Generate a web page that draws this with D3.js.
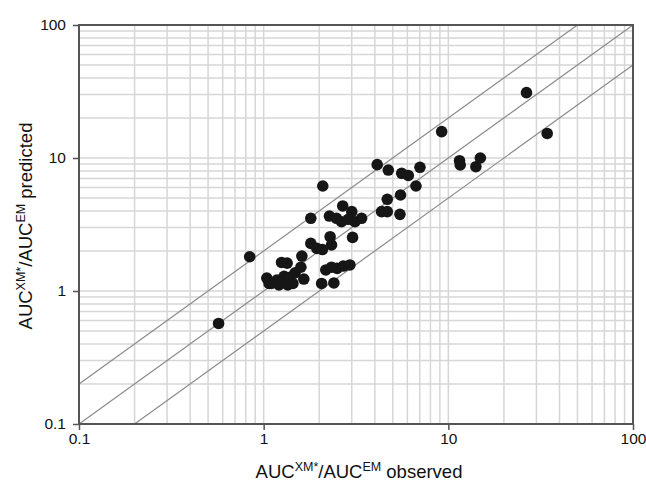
<!DOCTYPE html>
<html>
<head>
<meta charset="utf-8">
<script src="https://cdn.jsdelivr.net/npm/d3@7"></script>
<style>
  body { margin: 0; background: #fff; }
  text { font-family: "Liberation Sans", Arial, sans-serif; fill: #111; }
</style>
</head>
<body>
<div id="chart"></div>
<script>
// observed vs predicted AUC ratios
const observed = [
  1.04, 1.10, 1.18, 1.21, 1.27, 1.35, 1.39, 1.48, 1.59, 1.61, 1.65, 1.25, 1.34,
  1.07, 1.29, 1.44,
  1.80, 1.94, 2.08, 2.29, 2.33, 2.17, 2.33, 2.50, 2.70, 2.93, 2.06, 2.40, 3.03,
  1.80, 2.09, 2.27, 2.48, 2.64, 2.87, 3.00, 3.12, 3.39, 2.68,
  4.12, 4.73, 5.59, 6.07, 6.68, 4.67, 5.51, 4.35, 4.67, 5.47, 7.02,
  11.5, 11.6, 14.9, 14.1, 9.2, 26.5, 34.3, 0.84, 0.57
]
const predicted = [
  1.25, 1.14, 1.21, 1.11, 1.19, 1.11, 1.27, 1.37, 1.51, 1.83, 1.23, 1.64, 1.62,
  1.14, 1.29, 1.14,
  2.28, 2.09, 2.05, 2.56, 2.22, 1.44, 1.51, 1.48, 1.54, 1.57, 1.14, 1.15, 2.53,
  3.52, 6.16, 3.66, 3.52, 3.32, 3.46, 3.95, 3.32, 3.52, 4.36,
  8.91, 8.12, 7.67, 7.39, 6.16, 4.89, 5.27, 3.95, 3.95, 3.77, 8.51,
  9.54, 8.86, 10.0, 8.60, 15.8, 31.0, 15.3, 1.81, 0.57
]
const tickValues = [0.1, 1, 10, 100]
const tickLabels = ['0.1', '1', '10', '100']
const refFactors = [2, 1, 0.5]

const size = { width: 554, height: 399 }
const margin = { top: 25, left: 79 }

const svg = d3.select('#chart').append('svg')
  .attr('width', 646)
  .attr('height', 484)

const canvas = svg.append('g')
  .attr('transform', `translate(${margin.left},${margin.top})`)

const x = d3.scaleLog().domain([0.1, 100]).range([0, size.width])
const y = d3.scaleLog().domain([0.1, 100]).range([size.height, 0])

// minor + major grid
const gridVals = []
;[0.1, 1, 10].forEach((dec) => {
  for (let k = 1; k <= 9; k++) gridVals.push(dec * k)
})

canvas.append('g')
  .selectAll('line')
  .data(gridVals.slice(1))
  .enter()
  .append('line')
  .attr('x1', (d) => x(d)).attr('x2', (d) => x(d))
  .attr('y1', 0).attr('y2', size.height)
  .style('stroke', '#d6d6d6')
  .style('stroke-width', 1.5)

canvas.append('g')
  .selectAll('line')
  .data(gridVals.slice(1))
  .enter()
  .append('line')
  .attr('y1', (d) => y(d)).attr('y2', (d) => y(d))
  .attr('x1', 0).attr('x2', size.width)
  .style('stroke', '#d6d6d6')
  .style('stroke-width', 1.5)

// reference lines y = 2x, y = x, y = x/2
canvas.append('clipPath').attr('id', 'clip')
  .append('rect').attr('width', size.width).attr('height', size.height)

canvas.append('g')
  .attr('clip-path', 'url(#clip)')
  .selectAll('line')
  .data(refFactors)
  .enter()
  .append('line')
  .attr('x1', x(0.01)).attr('y1', (f) => y(0.01 * f))
  .attr('x2', x(1000)).attr('y2', (f) => y(1000 * f))
  .style('stroke', '#8a8a8a')
  .style('stroke-width', 1.2)

// points
canvas.append('g')
  .selectAll('circle')
  .data(observed.map((o, i) => [o, predicted[i]]))
  .enter()
  .append('circle')
  .attr('cx', (d) => x(d[0]))
  .attr('cy', (d) => y(d[1]))
  .attr('r', 5.8)
  .style('fill', '#161616')

// frame
canvas.append('rect')
  .attr('width', size.width)
  .attr('height', size.height)
  .style('fill', 'none')
  .style('stroke', '#555')
  .style('stroke-width', 2)

// axes
const xAxis = d3.axisBottom(x)
  .tickValues(tickValues)
  .tickFormat((d, i) => tickLabels[i])
  .tickSize(6)
  .tickPadding(3)
const yAxis = d3.axisLeft(y)
  .tickValues(tickValues)
  .tickFormat((d, i) => tickLabels[i])
  .tickSize(6)
  .tickPadding(7)

const gx = canvas.append('g')
  .attr('transform', `translate(0,${size.height})`)
  .call(xAxis)
const gy = canvas.append('g').call(yAxis)

;[gx, gy].forEach((g) => {
  g.select('.domain').remove()
  g.selectAll('line').style('stroke', '#555').style('stroke-width', 1.5)
  g.selectAll('text')
    .style('font-size', '15.5px')
    .style('font-family', '"Liberation Sans", Arial, sans-serif')
    .style('fill', '#111')
})

// axis titles with superscripts
const addTitle = (g, suffix) => {
  const t = g.append('text')
    .attr('text-anchor', 'middle')
    .style('font-size', '18.5px')
  t.append('tspan').text('AUC')
  t.append('tspan').attr('baseline-shift', 'super').style('font-size', '12.5px').text('XM*')
  t.append('tspan').text('/AUC')
  t.append('tspan').attr('baseline-shift', 'super').style('font-size', '12.5px').text('EM')
  t.append('tspan').text(suffix)
  return t
}

addTitle(svg.append('g').attr('transform', `translate(359,478)`), ' observed')
addTitle(svg.append('g').attr('transform', `translate(32,226) rotate(-90)`), ' predicted')
</script>
</body>
</html>
